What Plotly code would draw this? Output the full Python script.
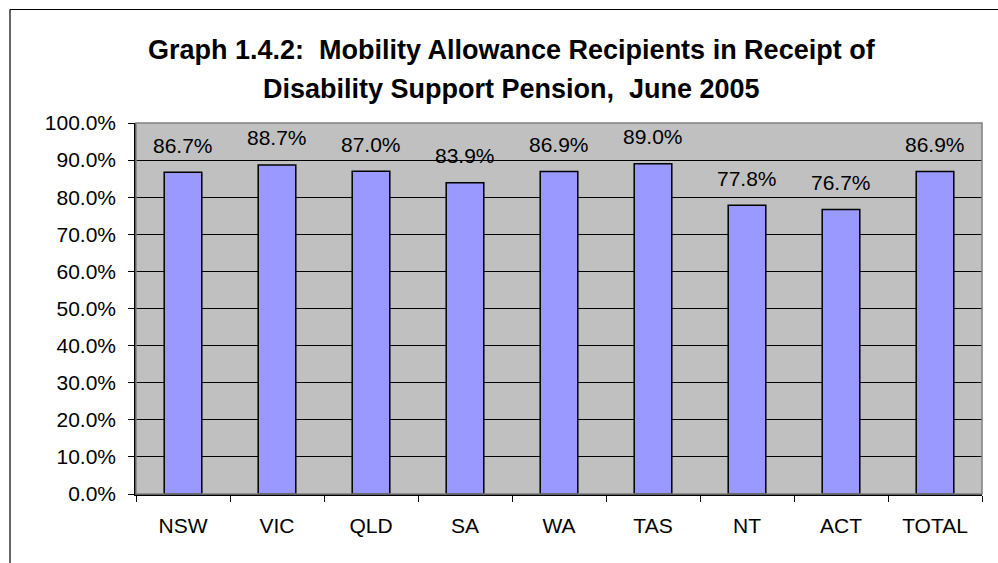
import plotly.graph_objects as go

# Mobility Allowance recipients also receiving Disability Support Pension, by state
states = ["NSW", "VIC", "QLD", "SA", "WA", "TAS", "NT", "ACT", "TOTAL"]
share = [0.867, 0.887, 0.870, 0.839, 0.869, 0.890, 0.778, 0.767, 0.869]

title_line1 = "Graph 1.4.2:\u00a0 Mobility Allowance Recipients in Receipt of"
title_line2 = "Disability Support Pension,\u00a0 June 2005"

FONT = "Liberation Sans, Arial, sans-serif"

W, H = 998, 563
L, R, T, B = 136, 16, 123, 69
pw, ph = W - L - R, H - T - B


def px_x(p):
    return (p - L) / pw


def px_y(p):
    return (H - B - p) / ph


fig = go.Figure(
    go.Bar(
        x=states,
        y=share,
        marker=dict(color="#9999FF", line=dict(color="#000000", width=1.5)),
        hoverinfo="skip",
    )
)

annotations = [
    dict(x=s, y=v, xref="x", yref="y", text=f"{v:.1%}", showarrow=False,
         yanchor="middle", yshift=27, font=dict(family=FONT, size=21, color="#000"))
    for s, v in zip(states, share)
]
annotations += [
    dict(x=px_x(511.5), y=px_y(50), xref="paper", yref="paper", text=f"<b>{title_line1}</b>",
         showarrow=False, xanchor="center", yanchor="middle",
         font=dict(family=FONT, size=27, color="#000")),
    dict(x=px_x(511.5), y=px_y(88.5), xref="paper", yref="paper", text=f"<b>{title_line2}</b>",
         showarrow=False, xanchor="center", yanchor="middle",
         font=dict(family=FONT, size=27, color="#000")),
]

shapes = [
    # plot-area frame (grey top/right edges)
    dict(type="rect", xref="paper", yref="paper", x0=0, x1=1, y0=0, y1=1,
         line=dict(color="#808080", width=1.5), layer="above"),
    # outer chart frame
    dict(type="line", xref="paper", yref="paper", x0=px_x(10), x1=px_x(1010),
         y0=px_y(9.5), y1=px_y(9.5), line=dict(color="#000", width=1.2)),
    dict(type="line", xref="paper", yref="paper", x0=px_x(10), x1=px_x(10),
         y0=px_y(9.5), y1=px_y(580), line=dict(color="#000", width=1.2)),
]

fig.update_layout(
    width=W, height=H,
    margin=dict(l=L, r=R, t=T, b=B, pad=0),
    paper_bgcolor="#FFFFFF",
    plot_bgcolor="#C0C0C0",
    showlegend=False,
    bargap=0.6,
    font=dict(family=FONT, size=21, color="#000"),
    annotations=annotations,
    shapes=shapes,
)

fig.update_yaxes(
    range=[0, 1], dtick=0.1, tickformat=".1%",
    showgrid=True, gridcolor="#000", gridwidth=1,
    showline=True, linecolor="#000", linewidth=1.5,
    ticks="outside", ticklen=6, tickcolor="#000", tickwidth=1,
    ticklabelstandoff=8, zeroline=False,
    tickfont=dict(family=FONT, size=21, color="#000"),
)
fig.update_xaxes(
    showgrid=False, showline=True, linecolor="#000", linewidth=1.5,
    ticks="outside", ticklen=6, tickcolor="#000", tickwidth=1,
    tickson="boundaries", ticklabelstandoff=12,
    tickfont=dict(family=FONT, size=21, color="#000"),
)

fig.write_html("out.html")
